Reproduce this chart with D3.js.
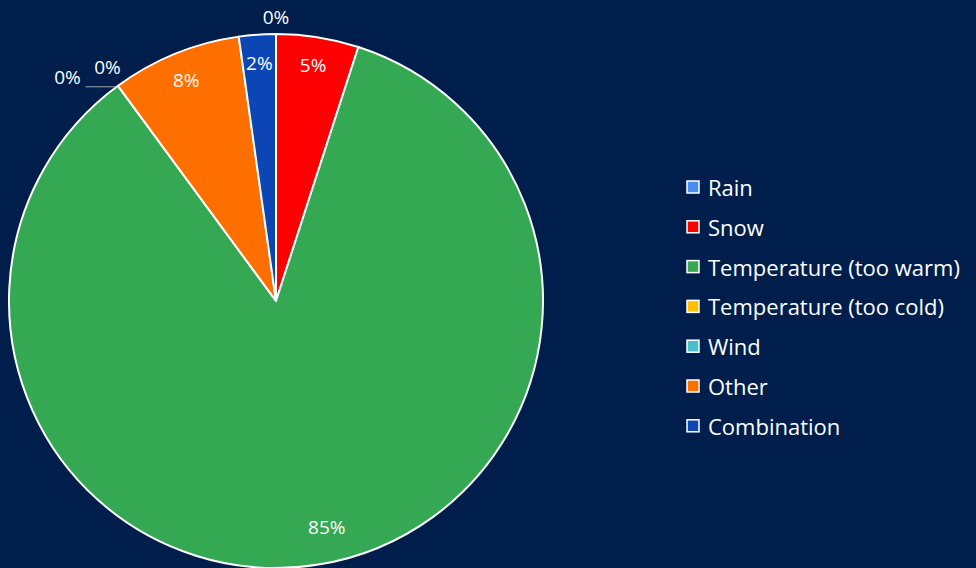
<!DOCTYPE html>
<html><head><meta charset="utf-8">
<script src="https://cdn.jsdelivr.net/npm/d3@7"></script>
<style>
html,body{margin:0;padding:0;background:#001e4b;}
svg{display:block;}
text{font-family:"Open Sans",Lato,sans-serif;}
</style></head>
<body>
<svg id="chart" width="976" height="568"></svg>
<script>
const categories = ["Rain","Snow","Temperature (too warm)","Temperature (too cold)","Wind","Other","Combination"];
const values = [0, 4.99, 84.93, 0, 0, 7.85, 2.23];
const colors = ["#4a8df2","#ff0000","#34a853","#ffc000","#47bfc7","#ff6f00","#0c46b5"];

const W = 976, H = 568;
const cx = 276, cy = 301, R = 267;
const svg = d3.select("#chart");
svg.append("rect").attr("width",W).attr("height",H).attr("fill","#001e4b");

const data = categories.map((c,i)=>({name:c, value:values[i], color:colors[i]}));
const total = d3.sum(values);
const pie = d3.pie().value(d=>d.value).sort(null);
const arcs = pie(data);
const arc = d3.arc().innerRadius(0).outerRadius(R);

const g = svg.append("g").attr("transform",`translate(${cx},${cy})`);
g.selectAll("path.slice").data(arcs.filter(a=>a.data.value>0)).join("path")
  .attr("class","slice")
  .attr("d",arc)
  .attr("fill",d=>d.data.color)
  .attr("stroke","#ffffff").attr("stroke-width",2).attr("stroke-linejoin","round");

// labels
const fmt = v => Math.round(v/total*100) + "%";
const outR = 283;
let lastZeroAngle = null;
arcs.forEach(a=>{
  const label = fmt(a.data.value);
  if (a.data.value > 0) {
    let ang = (a.startAngle + a.endAngle)/2;
    let r = 238;
    if (a.endAngle - a.startAngle > Math.PI) { ang -= 0.06; r = 233; }
    g.append("text")
      .attr("x", Math.sin(ang)*r).attr("y", -Math.cos(ang)*r - 1)
      .attr("text-anchor","middle").attr("dominant-baseline","central")
      .attr("fill","#ffffff").attr("font-size",19).text(label);
  } else {
    const ang = a.startAngle;
    let x = Math.sin(ang)*outR, y = -Math.cos(ang)*outR;
    if (lastZeroAngle !== null && Math.abs(lastZeroAngle-ang) < 0.05) {
      const ex = Math.sin(ang)*R, ey = -Math.cos(ang)*R;
      x = x - 41; y = y + 4;
      g.append("line").attr("x1", x+18).attr("y1", ey+1).attr("x2", ex-2).attr("y2", ey+1)
        .attr("stroke","#a6a6a6").attr("stroke-width",1);
    } else if (ang > Math.PI) {
      x = x - 1; y = y - 6;
    } else {
      y = y - 1;
    }
    lastZeroAngle = ang;
    g.append("text")
      .attr("x", x).attr("y", y)
      .attr("text-anchor","middle").attr("dominant-baseline","central")
      .attr("fill","#ffffff").attr("font-size",19).text(label);
  }
});

// legend
const lx = 686, ly0 = 187, step = 39.8;
const leg = svg.append("g");
data.forEach((d,i)=>{
  const y = ly0 + i*step;
  leg.append("rect").attr("x",lx+1).attr("y",y-6).attr("width",12).attr("height",12)
    .attr("fill",d.color).attr("stroke","#ffffff").attr("stroke-width",1.5);
  leg.append("text").attr("x",lx+22).attr("y",y).attr("dominant-baseline","central")
    .attr("fill","#ffffff").attr("font-size",22).text(d.name);
});
</script>
</body></html>
